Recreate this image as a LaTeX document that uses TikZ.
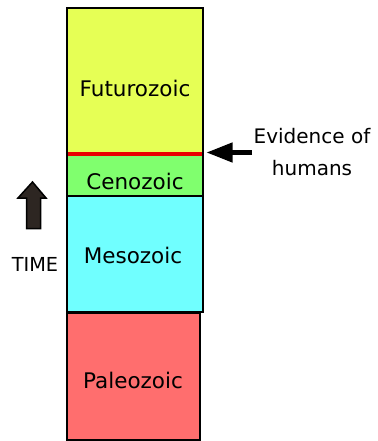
\documentclass[tikz,border=0pt]{standalone}
\usepackage{fontspec}
\setmainfont{DejaVu Sans}
\usetikzlibrary{arrows.meta}
\definecolor{futc}{RGB}{230,255,85}
\definecolor{cenc}{RGB}{128,255,110}
\definecolor{mesc}{RGB}{112,255,255}
\definecolor{palc}{RGB}{255,110,110}
\definecolor{redl}{RGB}{235,0,0}
\definecolor{arrfill}{RGB}{45,38,34}
\tikzset{
  era/.style={draw=black, line width=1.6pt},
  lbl/.style={font=\fontsize{21.5}{26}\selectfont, inner sep=0pt},
  pointer/.style={line width=4.5pt, -{Triangle[length=26pt,width=19pt]}},
}
\begin{document}
\begin{tikzpicture}[x=1pt,y=-1pt]
\useasboundingbox (0,0) rectangle (377,441);
% era boxes
\draw[era, fill=futc] (67,8) rectangle (203,153);
\draw[era, fill=cenc] (67,153) rectangle (203,196);
\draw[era, fill=mesc] (67,196) rectangle (203,312);
\draw[era, fill=palc] (67,313) rectangle (200,440);
\draw[redl, line width=4pt] (67.8,153.5) -- (202.2,153.5);
\coordinate (redline) at (207.5,152.5);
% labels
\node[lbl] (fut) at (135,88) {Futurozoic};
\node[lbl] (cen) at (135,181) {Cenozoic};
\node[lbl] (mes) at (133,255) {Mesozoic};
\node[lbl] (pal) at (133,380) {Paleozoic};
\node[lbl, align=center, font=\fontsize{20}{32}\selectfont] (ev) at (312,152) {Evidence of\\humans};
\coordinate (evtail) at (252,152.5);
\draw[pointer, shorten >=-1pt] (evtail) -- (redline);
% time arrow
\filldraw[fill=arrfill, draw=black, line width=1.5pt, line join=miter] (32.5,182) -- (46,198) -- (40.5,198) -- (40.5,228.5) -- (26.5,228.5) -- (26.5,198) -- (18,198) -- cycle;
\node[lbl, font=\fontsize{19.3}{23}\selectfont] (time) at (35,264) {TIME};
\end{tikzpicture}
\end{document}
